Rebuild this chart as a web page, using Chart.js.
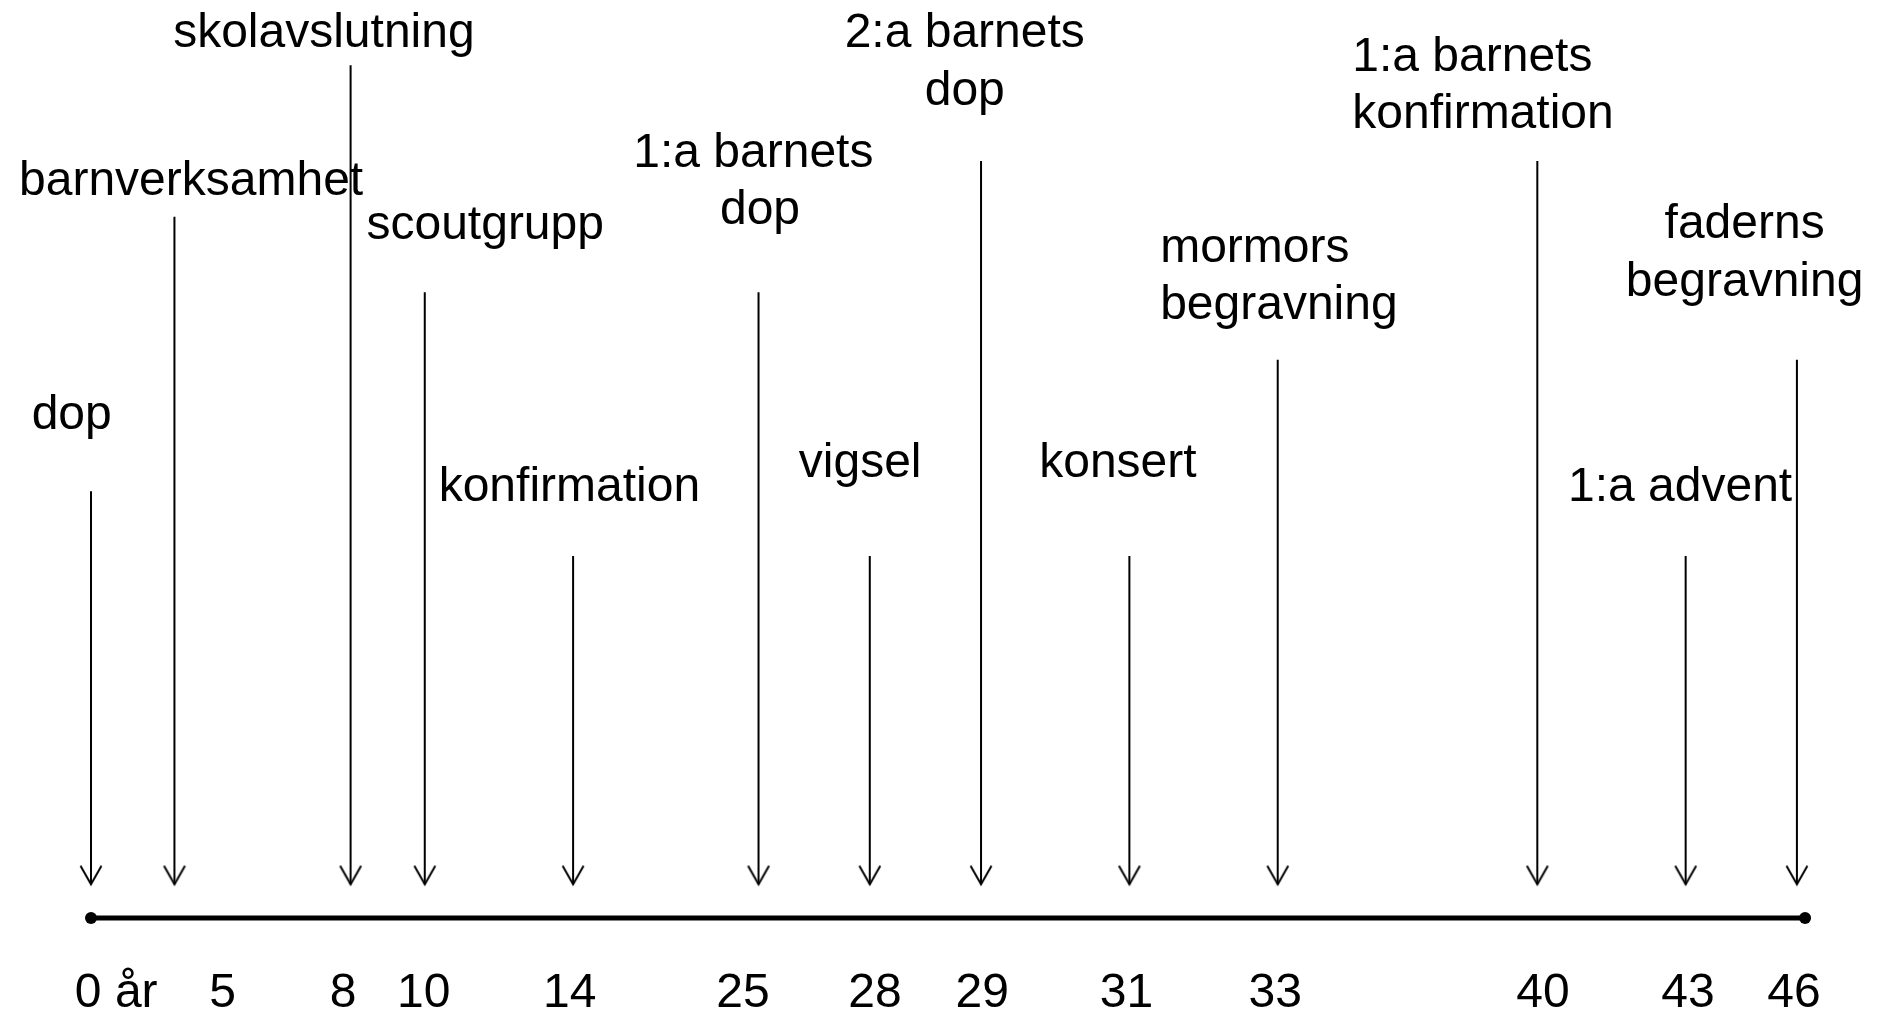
<!DOCTYPE html>
<html>
<head>
<meta charset="utf-8">
<script src="https://cdn.jsdelivr.net/npm/chart.js@4/dist/chart.umd.min.js"></script>
<style>
  html, body { margin: 0; padding: 0; background: #ffffff; }
  #wrap { width: 1878px; height: 1010px; position: relative; }
</style>
</head>
<body>
<div id="wrap"><canvas id="c" width="1878" height="1010"></canvas></div>
<script>
// ---- data ----
const ages = [0, 5, 8, 10, 14, 25, 28, 29, 31, 33, 40, 43, 46];
const eventNames = ['dop', 'barnverksamhet', 'skolavslutning', 'scoutgrupp', 'konfirmation',
  '1:a barnets dop', 'vigsel', '2:a barnets dop', 'konsert', 'mormors begravning',
  '1:a barnets konfirmation', '1:a advent', 'faderns begravning'];
// schematic place of each event on the drawn time line (line units, 0 = birth, 46 = end)
const timelinePos = [0, 2.25, 7, 9, 13, 18, 21, 24, 28, 32, 39, 43, 46];
// height of each arrow's tail (level above the line)
const stemTop = [46.8, 76.9, 93.5, 68.6, 39.7, 68.6, 39.7, 83.0, 39.7, 61.2, 83.0, 39.7, 61.2];
const arrowTip = 3.7;
const lineEnd = 46.22;
// tick labels (ages) and where they sit under the line
const tickLabels = ages.map(a => a === 0 ? '0 år' : String(a));
const tickPos = [0.68, 3.55, 6.8, 8.97, 12.91, 17.58, 21.14, 24.03, 27.92, 31.93, 39.15, 43.06, 45.92];

// ---- label layout (text lines, anchor, alignment) ----
const labelLines = [['dop'], ['barnverksamhet'], ['skolavslutning'], ['scoutgrupp'], ['konfirmation'],
  ['1:a barnets ', 'dop'], ['vigsel'], ['2:a barnets', 'dop'], ['konsert'], ['mormors', 'begravning'],
  ['1:a barnets', 'konfirmation'], ['1:a advent'], ['faderns', 'begravning']];
const labelX = [-0.52, 2.7, 6.28, 10.63, 12.9, 18.04, 20.74, 23.56, 27.69, 28.83, 34.01, 42.85, 44.59];
const labelY = [53.6, 79.25, 95.5, 74.45, 45.75, 82.4, 48.35, 95.5, 48.35, 71.95, 92.9, 45.75, 74.55];
const labelAlign = ['center', 'center', 'center', 'center', 'center', 'center', 'center', 'center',
  'center', 'left', 'left', 'center', 'center'];

const FONT = '"Liberation Sans", Arial, Helvetica, sans-serif';

// open arrow head, tip at the centre of the image
const head = document.createElement('canvas');
head.width = 26; head.height = 42;
(function () {
  const g = head.getContext('2d');
  g.strokeStyle = '#000'; g.lineWidth = 2; g.lineJoin = 'miter';
  g.beginPath();
  g.moveTo(13 - 10.5, 21 - 18.5);
  g.lineTo(13, 21);
  g.lineTo(13 + 10.5, 21 - 18.5);
  g.stroke();
})();

const arrowSets = eventNames.map((name, i) => ({
  label: name,
  data: [{ x: timelinePos[i], y: stemTop[i] }, { x: timelinePos[i], y: arrowTip }],
  borderColor: '#000',
  borderWidth: 2,
  showLine: true,
  clip: false,
  pointRadius: ctx => ctx.dataIndex === 1 ? 3 : 0,
  pointStyle: ctx => ctx.dataIndex === 1 ? head : 'circle',
  pointHoverRadius: 0
}));

const baseSet = {
  label: 'tidslinje',
  data: [{ x: 0, y: 0 }, { x: lineEnd, y: 0 }],
  borderColor: '#000',
  borderWidth: 5,
  showLine: true,
  clip: false,
  pointRadius: 6,
  pointBackgroundColor: '#000',
  pointBorderWidth: 0,
  pointStyle: 'circle'
};

const labelPlugin = {
  id: 'eventLabels',
  afterDatasetsDraw(chart) {
    const { ctx, scales: { x, y } } = chart;
    ctx.save();
    ctx.fillStyle = '#000';
    ctx.font = '48px ' + FONT;
    ctx.textBaseline = 'alphabetic';
    labelLines.forEach((lines, i) => {
      ctx.textAlign = labelAlign[i];
      const px = x.getPixelForValue(labelX[i]);
      const py = y.getPixelForValue(labelY[i]);
      lines.forEach((t, k) => ctx.fillText(t, px, py + k * 57.6));
    });
    ctx.restore();
  }
};

new Chart(document.getElementById('c'), {
  type: 'scatter',
  data: { datasets: [baseSet, ...arrowSets] },
  options: {
    responsive: false,
    animation: false,
    events: [],
    layout: { padding: { left: 91, right: 44, top: 0, bottom: 0 } },
    plugins: { legend: { display: false }, tooltip: { enabled: false } },
    scales: {
      x: {
        type: 'linear', min: 0, max: 47,
        grid: { display: false, drawTicks: false },
        border: { display: false },
        afterBuildTicks: s => { s.ticks = tickPos.map(v => ({ value: v })); },
        afterFit: s => { s.height = 92; },
        ticks: {
          autoSkip: false, maxRotation: 0, minRotation: 0,
          padding: 46.5, color: '#000',
          font: { family: FONT, size: 48 },
          callback: (v, i) => tickLabels[i]
        }
      },
      y: { type: 'linear', min: 0, max: 100, display: false }
    }
  },
  plugins: [labelPlugin]
});
</script>
</body>
</html>
